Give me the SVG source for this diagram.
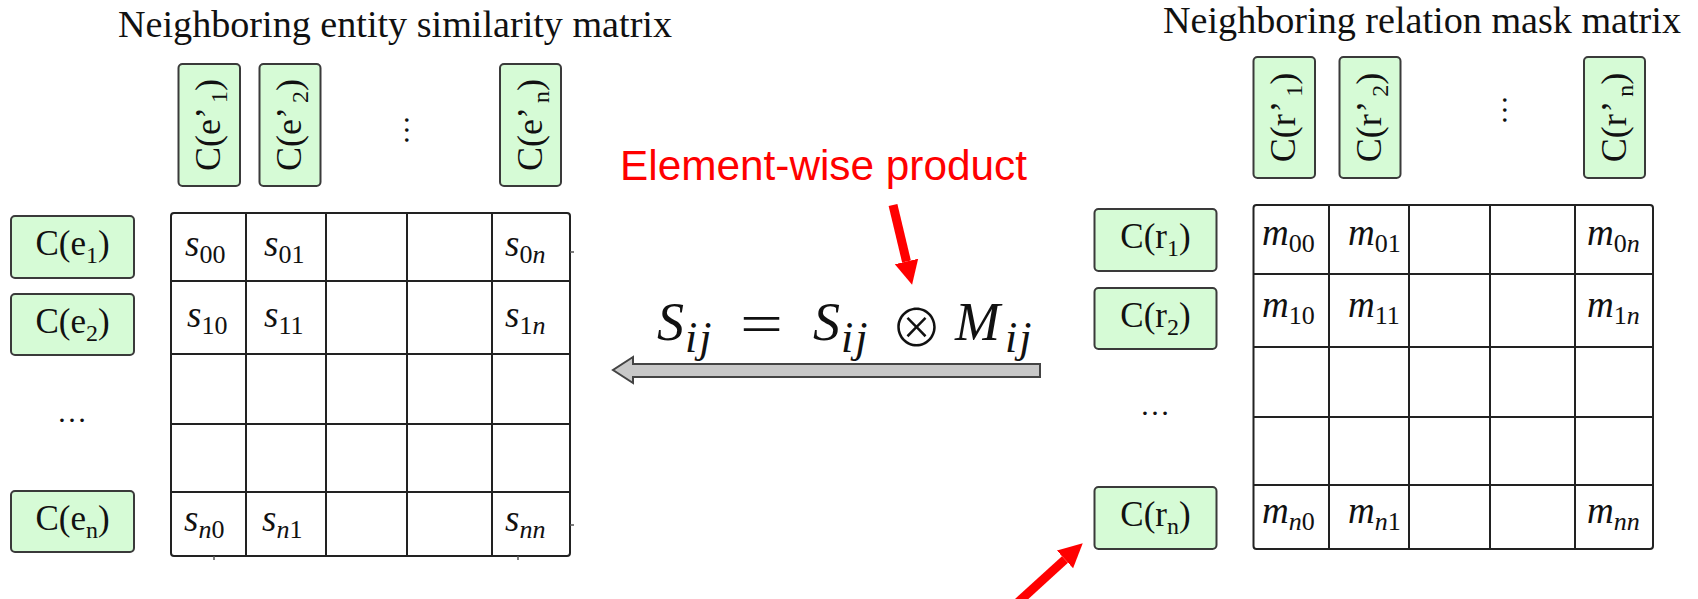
<svg xmlns="http://www.w3.org/2000/svg" width="1698" height="599" viewBox="0 0 1698 599">
<style>
.title{font-family:"Liberation Serif","Times New Roman",serif;font-size:38px;fill:#111}
.box{fill:#d6fbd6;stroke:#3a3a3a;stroke-width:2}
.lbl{font-family:"Liberation Serif","Times New Roman",serif;font-size:35px;fill:#111;text-anchor:middle}
.vlbl{font-family:"Liberation Serif","Times New Roman",serif;font-size:36px;fill:#111;text-anchor:middle}
.sub{font-size:24px}
.grid{fill:#fff;stroke:#222;stroke-width:2}
.gl{stroke:#222;stroke-width:2}
.mi{font-family:"Liberation Serif","Times New Roman",serif;font-style:italic;font-size:37px;fill:#111}
.sb{font-style:normal;font-size:26px}
.sbi{font-style:italic;font-size:26px}
.dots{font-family:"Liberation Serif","Times New Roman",serif;font-size:30px;fill:#111;text-anchor:middle}
.fx{font-family:"Liberation Serif","Times New Roman",serif;font-style:italic;font-size:54px;fill:#111}
.fs{font-family:"Liberation Serif","Times New Roman",serif;font-style:italic;font-size:44px;letter-spacing:2px;fill:#111}
.red{font-family:"Liberation Sans",Arial,sans-serif;font-size:42px;fill:#ff0000}
.ra{stroke:#ff0000;stroke-width:9;fill:none}
</style>
<defs>
<marker id="rh" markerUnits="userSpaceOnUse" viewBox="0 -13 26 26" markerWidth="26" markerHeight="26" refX="0" refY="0" orient="auto">
<path d="M0,-12 L24,0 L0,12 z" fill="#ff0000"/>
</marker>
</defs>

<g id="title-left"><text class="title" x="118" y="37" textLength="554" lengthAdjust="spacingAndGlyphs">Neighboring entity similarity matrix</text></g>
<g id="title-right"><text class="title" x="1163" y="33" textLength="518" lengthAdjust="spacingAndGlyphs">Neighboring relation mask matrix</text></g>

<!-- left column headers -->
<g id="col-e1"><rect class="box" x="178.5" y="64" width="61.5" height="122" rx="4"/>
<text class="vlbl" transform="translate(220,125) rotate(-90)">C(e’<tspan class="sub" dx="4" dy="7">1</tspan><tspan dy="-7">)</tspan></text></g>
<g id="col-e2"><rect class="box" x="259.5" y="64" width="61" height="122" rx="4"/>
<text class="vlbl" transform="translate(301,125) rotate(-90)">C(e’<tspan class="sub" dx="4" dy="7">2</tspan><tspan dy="-7">)</tspan></text></g>
<g id="col-vdots-l"><text class="dots" transform="translate(405,130) rotate(90)">…</text></g>
<g id="col-en"><rect class="box" x="500" y="64" width="61" height="122" rx="4"/>
<text class="vlbl" transform="translate(541.5,125) rotate(-90)">C(e’<tspan class="sub" dx="4" dy="7">n</tspan><tspan dy="-7">)</tspan></text></g>

<!-- left row headers -->
<g id="row-e1"><rect class="box" x="11" y="216" width="123" height="62" rx="4"/>
<text class="lbl" x="72.5" y="255">C(e<tspan class="sub" dy="8">1</tspan><tspan dy="-8">)</tspan></text></g>
<g id="row-e2"><rect class="box" x="11" y="294" width="123" height="61" rx="4"/>
<text class="lbl" x="72.5" y="333">C(e<tspan class="sub" dy="8">2</tspan><tspan dy="-8">)</tspan></text></g>
<g id="row-dots-l"><text class="dots" x="72" y="422">…</text></g>
<g id="row-en"><rect class="box" x="11" y="491" width="123" height="61" rx="4"/>
<text class="lbl" x="72.5" y="530">C(e<tspan class="sub" dy="8">n</tspan><tspan dy="-8">)</tspan></text></g>

<!-- left matrix -->
<g id="matrix-s">
<rect class="grid" x="171" y="213" width="399" height="343" rx="3"/>
<path class="gl" d="M246,213V556M326,213V556M407,213V556M492,213V556M171,281H570M171,354H570M171,424H570M171,492H570"/>
<path stroke="#555" stroke-width="1.5" d="M570,252h4M570,525h4M214,556v4M518,556v4"/>
<text class="mi" x="185" y="256">s<tspan class="sb" dy="7">00</tspan></text>
<text class="mi" x="264" y="256">s<tspan class="sb" dy="7">01</tspan></text>
<text class="mi" x="505" y="256">s<tspan class="sb" dy="7">0</tspan><tspan class="sbi">n</tspan></text>
<text class="mi" x="187" y="327">s<tspan class="sb" dy="7">10</tspan></text>
<text class="mi" x="264" y="327">s<tspan class="sb" dy="7">11</tspan></text>
<text class="mi" x="505" y="327">s<tspan class="sb" dy="7">1</tspan><tspan class="sbi">n</tspan></text>
<text class="mi" x="184" y="531">s<tspan class="sbi" dy="7">n</tspan><tspan class="sb">0</tspan></text>
<text class="mi" x="262" y="531">s<tspan class="sbi" dy="7">n</tspan><tspan class="sb">1</tspan></text>
<text class="mi" x="505" y="531">s<tspan class="sbi" dy="7">nn</tspan></text>
</g>

<!-- right column headers -->
<g id="col-r1"><rect class="box" x="1253.5" y="57" width="61.5" height="121" rx="4"/>
<text class="vlbl" transform="translate(1295,117.5) rotate(-90)">C(r’<tspan class="sub" dx="4" dy="7">1</tspan><tspan dy="-7">)</tspan></text></g>
<g id="col-r2"><rect class="box" x="1339.5" y="57" width="61" height="121" rx="4"/>
<text class="vlbl" transform="translate(1381,117.5) rotate(-90)">C(r’<tspan class="sub" dx="4" dy="7">2</tspan><tspan dy="-7">)</tspan></text></g>
<g id="col-vdots-r"><text class="dots" transform="translate(1503,110) rotate(90)">…</text></g>
<g id="col-rn"><rect class="box" x="1584" y="57" width="61" height="121" rx="4"/>
<text class="vlbl" transform="translate(1625.5,117.5) rotate(-90)">C(r’<tspan class="sub" dx="4" dy="7">n</tspan><tspan dy="-7">)</tspan></text></g>

<!-- right row headers -->
<g id="row-r1"><rect class="box" x="1094.5" y="209" width="122" height="62" rx="4"/>
<text class="lbl" x="1155.5" y="248">C(r<tspan class="sub" dy="8">1</tspan><tspan dy="-8">)</tspan></text></g>
<g id="row-r2"><rect class="box" x="1094.5" y="288" width="122" height="61" rx="4"/>
<text class="lbl" x="1155.5" y="327">C(r<tspan class="sub" dy="8">2</tspan><tspan dy="-8">)</tspan></text></g>
<g id="row-dots-r"><text class="dots" x="1155" y="415">…</text></g>
<g id="row-rn"><rect class="box" x="1094.5" y="487" width="122" height="62" rx="4"/>
<text class="lbl" x="1155.5" y="526">C(r<tspan class="sub" dy="8">n</tspan><tspan dy="-8">)</tspan></text></g>

<!-- right matrix -->
<g id="matrix-m">
<rect class="grid" x="1253.5" y="205" width="399.5" height="344" rx="3"/>
<path class="gl" d="M1329,205V549M1409,205V549M1490,205V549M1575,205V549M1253.5,274H1653M1253.5,347H1653M1253.5,417H1653M1253.5,485H1653"/>
<text class="mi" x="1262" y="245">m<tspan class="sb" dy="7">00</tspan></text>
<text class="mi" x="1348" y="245">m<tspan class="sb" dy="7">01</tspan></text>
<text class="mi" x="1587" y="245">m<tspan class="sb" dy="7">0</tspan><tspan class="sbi">n</tspan></text>
<text class="mi" x="1262" y="317">m<tspan class="sb" dy="7">10</tspan></text>
<text class="mi" x="1348" y="317">m<tspan class="sb" dy="7">11</tspan></text>
<text class="mi" x="1587" y="317">m<tspan class="sb" dy="7">1</tspan><tspan class="sbi">n</tspan></text>
<text class="mi" x="1262" y="523">m<tspan class="sbi" dy="7">n</tspan><tspan class="sb">0</tspan></text>
<text class="mi" x="1348" y="523">m<tspan class="sbi" dy="7">n</tspan><tspan class="sb">1</tspan></text>
<text class="mi" x="1587" y="523">m<tspan class="sbi" dy="7">nn</tspan></text>
</g>

<!-- formula -->
<g id="formula">
<text class="fx" x="657" y="340">S</text>
<text class="fs" x="685" y="352">ij</text>
<text x="740" y="343" font-family="'Liberation Serif',serif" font-size="58" fill="#111" textLength="43" lengthAdjust="spacingAndGlyphs">=</text>
<text class="fx" x="813" y="340">S</text>
<text class="fs" x="841" y="352">ij</text>
<text x="916.5" y="346.5" text-anchor="middle" font-family="'Noto Sans CJK JP','Noto Sans CJK SC','DejaVu Sans',sans-serif" font-weight="300" font-size="52" fill="#111">⊗</text>
<text class="fx" x="955" y="340">M</text>
<text class="fs" x="1005" y="352">ij</text>
</g>

<g id="label-element-wise"><text class="red" x="620" y="180" textLength="407" lengthAdjust="spacingAndGlyphs">Element-wise product</text></g>

<g id="connectors">
<polygon points="1040,364 633,364 633,357 613,370 633,383 633,377 1040,377" fill="#c8c8c8" stroke="#444" stroke-width="2" stroke-linejoin="miter"/>
<line class="ra" x1="893" y1="205" x2="906.5" y2="261.5" marker-end="url(#rh)"/>
<line class="ra" x1="1014" y1="606" x2="1065" y2="559.5" marker-end="url(#rh)"/>
</g>
</svg>
